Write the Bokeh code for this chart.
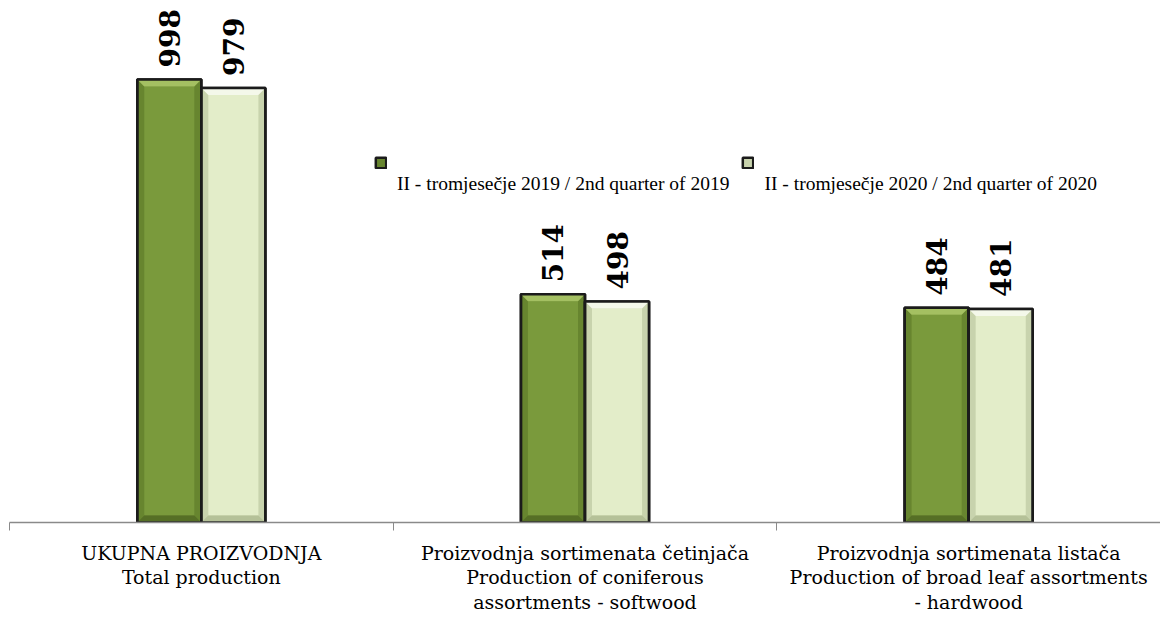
import math
from bokeh.plotting import figure
from bokeh.models import (Range1d, FixedTicker, ColumnDataSource, LabelSet,
                          Legend, LegendItem)
from bokeh.core.properties import value
from bokeh.embed import file_html
from bokeh.resources import INLINE

# ---------------- data ----------------
categories = [
    "UKUPNA PROIZVODNJA\nTotal production",
    "Proizvodnja sortimenata četinjača\nProduction of coniferous\nassortments - softwood",
    "Proizvodnja sortimenata listača\nProduction of broad leaf assortments\n- hardwood",
]
series_names = [
    "II - tromjesečje 2019 / 2nd quarter of 2019",
    "II - tromjesečje 2020 / 2nd quarter of 2020",
]
values_2019 = [998, 514, 484]
values_2020 = [979, 498, 481]

# ---------------- styling ----------------
W, H = 1160, 616
BOTTOM = 94
Y_MAX = 1176
BAR_W = 0.167
BORDER_L = 9
PAL = [
    dict(face="#7a9a3c", top="#a4c062", bottom="#566f26", side="#67852f"),
    dict(face="#e3edc9", top="#f4f8ea", bottom="#b5c198", side="#c8d3ad"),
]

p = figure(width=W, height=H, output_backend="svg", toolbar_location=None,
           x_range=Range1d(0, len(categories)), y_range=Range1d(0, Y_MAX),
           min_border_left=BORDER_L, min_border_right=0, min_border_top=0,
           min_border_bottom=BOTTOM, outline_line_color=None)
p.yaxis.visible = False
p.xgrid.visible = False
p.ygrid.visible = False

frame_w_px = W - BORDER_L
px_x = len(categories) / frame_w_px          # data units per px (x)
px_y = Y_MAX / (H - BOTTOM)                  # data units per px (y)
bev_x = 7 * px_x
bev_y = 7 * px_y

centers = [i + 0.5 for i in range(len(categories))]
legend_items = []
for s, (vals, name) in enumerate(zip([values_2019, values_2020], series_names)):
    off = (s - 0.5) * BAR_W
    xs = [c + off for c in centers]
    src = ColumnDataSource(dict(x=xs, top=vals, label=[str(v) for v in vals]))
    col = PAL[s]
    base = p.vbar(x="x", top="top", width=BAR_W, source=src,
                  fill_color=col["side"], line_color="#1b1b1b", line_width=2.5)
    # face
    p.quad(left=[x - BAR_W / 2 + bev_x for x in xs], right=[x + BAR_W / 2 - bev_x for x in xs],
           top=[v - bev_y for v in vals], bottom=[bev_y] * len(vals),
           fill_color=col["face"], line_color=None)
    # top bevel
    p.patches(xs=[[x - BAR_W / 2, x + BAR_W / 2, x + BAR_W / 2 - bev_x, x - BAR_W / 2 + bev_x] for x in xs],
              ys=[[v, v, v - bev_y, v - bev_y] for v in vals],
              fill_color=col["top"], line_color=None)
    # bottom bevel
    p.patches(xs=[[x - BAR_W / 2, x + BAR_W / 2, x + BAR_W / 2 - bev_x, x - BAR_W / 2 + bev_x] for x in xs],
              ys=[[0, 0, bev_y, bev_y] for v in vals],
              fill_color=col["bottom"], line_color=None)
    # outline on top
    p.vbar(x="x", top="top", width=BAR_W, source=src,
           fill_color=None, line_color="#1b1b1b", line_width=2.5)
    legend_items.append(LegendItem(label="\n\n" + name, renderers=[base]))
    labels = LabelSet(x="x", y="top", text="label", source=src, angle=math.pi / 2,
                      text_align="left", text_baseline="middle", y_offset=12,
                      text_font=value("DejaVu Serif"), text_font_style="bold",
                      text_font_size="28px", text_color="#000000")
    p.add_layout(labels)

legend = Legend(items=legend_items, location=(365, 327), orientation="horizontal",
                glyph_width=13, glyph_height=13, label_text_font="Liberation Serif",
                label_text_font_size="19.5px", label_text_line_height=1.2,
                label_text_color="#000000",
                label_standoff=10, spacing=12, padding=0, margin=0,
                border_line_color=None, background_fill_alpha=0)
p.add_layout(legend, "center")

ax = p.xaxis[0]
ax.ticker = FixedTicker(ticks=centers, minor_ticks=list(range(len(categories) + 1)))
ax.major_label_overrides = {c: cat for c, cat in zip(centers, categories)}
ax.major_tick_line_color = None
ax.major_tick_out = 0
ax.major_tick_in = 0
ax.minor_tick_line_color = "#8a8a8a"
ax.minor_tick_out = 8
ax.minor_tick_in = 0
ax.axis_line_color = "#8a8a8a"
ax.axis_line_width = 1.5
ax.major_label_standoff = 11
ax.major_label_text_font = "DejaVu Serif"
ax.major_label_text_font_size = "19px"
ax.major_label_text_line_height = 1.13
ax.major_label_text_color = "#000000"

open("out.html", "w").write(file_html(p, INLINE))
